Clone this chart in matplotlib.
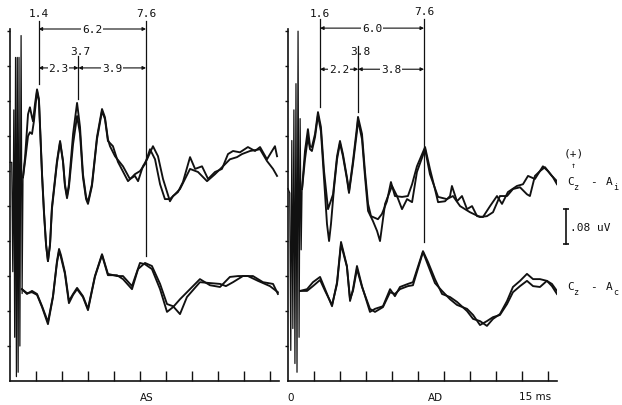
import matplotlib
matplotlib.use("Agg")
import matplotlib.pyplot as plt

# ---------------- data (time in ms, amplitude in uV on the display scale) ----------------
TICKS_MS = [1.5, 3.0, 4.5, 6.0, 7.5, 9.0, 10.5, 12.0, 13.5, 15.0]
YTICKS_UV = [0.08, 0.16, 0.24, 0.32, 0.40, 0.48, 0.56, 0.64, 0.72, 0.80]
SCALE_UV = 0.08
ONSET_MS = 0.25

AS_LATENCIES = [1.4, 3.7, 7.6]
AD_LATENCIES = [1.6, 3.8, 7.6]

# stimulus artefact
AS_ART_T = [0.00, 0.10, 0.16, 0.22, 0.27, 0.32, 0.37, 0.42, 0.47, 0.52, 0.57, 0.64, 0.70, 0.75]
AS_ART_V = [0.50, 0.50, 0.25, 0.62, 0.10, 0.74, 0.01, 0.74, 0.02, 0.74, 0.08, 0.79, 0.20, 0.466]
AD_ART_T = [0.00, 0.10, 0.16, 0.22, 0.28, 0.34, 0.40, 0.46, 0.52, 0.58, 0.64, 0.70, 0.76, 0.81]
AD_ART_V = [0.44, 0.43, 0.07, 0.55, 0.12, 0.62, 0.04, 0.68, 0.02, 0.80, 0.10, 0.60, 0.30, 0.439]

# AS, Cz-Ai, two replications
AS_UP_A_T = [0.75, 0.87, 1.04, 1.15, 1.27, 1.33, 1.44, 1.56, 1.67, 1.73, 1.85, 1.96, 2.08, 2.19, 2.31,
             2.42, 2.71, 2.89, 3.06, 3.17, 3.29, 3.40, 3.64, 3.87, 4.04, 4.21, 4.39, 4.50, 4.73, 5.02,
             5.31, 5.48, 5.65, 5.77, 6.06, 6.52, 6.92, 7.21, 7.39, 7.67, 7.91, 8.25, 8.54, 8.83,
             9.23, 9.41, 9.69, 9.98, 10.39, 10.68, 11.08, 11.43, 11.83, 12.23, 12.58, 12.87, 13.27,
             13.73, 14.14, 14.43, 14.83, 15.12, 15.29, 15.41]
AS_UP_A_V = [0.466, 0.512, 0.610, 0.626, 0.603, 0.594, 0.633, 0.667, 0.645, 0.587, 0.473, 0.389, 0.313,
             0.274, 0.313, 0.398, 0.503, 0.549, 0.503, 0.450, 0.423, 0.450, 0.565, 0.636, 0.581, 0.473,
             0.421, 0.409, 0.450, 0.558, 0.622, 0.603, 0.553, 0.537, 0.514, 0.491, 0.462, 0.469, 0.457,
             0.491, 0.507, 0.537, 0.514, 0.462, 0.411, 0.423, 0.432, 0.455, 0.512, 0.485, 0.491, 0.462,
             0.478, 0.485, 0.519, 0.526, 0.523, 0.535, 0.526, 0.535, 0.507, 0.526, 0.537, 0.514]
AS_UP_B_T = [0.75, 0.87, 1.04, 1.15, 1.27, 1.38, 1.56, 1.67, 1.73, 1.85, 1.96, 2.08, 2.19, 2.31, 2.42,
             2.71, 2.89, 3.06, 3.17, 3.29, 3.40, 3.64, 3.87, 4.04, 4.21, 4.39, 4.50, 4.73, 5.02, 5.31,
             5.48, 5.65, 5.94, 6.23, 6.81, 7.04, 7.21, 7.50, 7.79, 8.08, 8.37, 8.66, 8.94,
             9.23, 9.52, 9.81, 10.10, 10.39, 10.85, 11.37, 11.83, 12.29, 12.69, 13.10, 13.39, 13.85,
             14.43, 14.83, 15.18, 15.41]
AS_UP_B_V = [0.466, 0.503, 0.560, 0.569, 0.565, 0.594, 0.663, 0.640, 0.583, 0.469, 0.384, 0.311, 0.274,
             0.311, 0.393, 0.498, 0.546, 0.501, 0.446, 0.418, 0.443, 0.542, 0.606, 0.565, 0.466, 0.416,
             0.405, 0.446, 0.553, 0.617, 0.599, 0.549, 0.537, 0.501, 0.457, 0.466, 0.473, 0.480, 0.496,
             0.530, 0.507, 0.450, 0.416, 0.416, 0.427, 0.439, 0.462, 0.485, 0.478, 0.457, 0.473, 0.491,
             0.507, 0.512, 0.519, 0.526, 0.530, 0.503, 0.485, 0.469]

# AS, Cz-Ac
AS_LO_A_T = [0.69, 0.98, 1.27, 1.56, 1.85, 2.19, 2.48, 2.71, 2.83, 2.94, 3.17, 3.40, 3.64, 3.87, 4.21,
             4.50, 4.90, 5.31, 5.65, 6.17, 6.52, 7.04, 7.50, 7.79, 8.19, 8.66, 9.06, 9.41, 9.81, 10.21,
             10.96, 11.54, 12.12, 12.69, 13.16, 13.73, 14.31, 15.00, 15.46]
AS_LO_A_V = [0.210, 0.199, 0.206, 0.199, 0.171, 0.135, 0.194, 0.274, 0.302, 0.288, 0.249, 0.183, 0.199,
             0.213, 0.194, 0.165, 0.240, 0.290, 0.245, 0.240, 0.240, 0.217, 0.270, 0.267, 0.256, 0.210,
             0.158, 0.169, 0.187, 0.203, 0.233, 0.219, 0.215, 0.238, 0.240, 0.240, 0.229, 0.217, 0.203]
AS_LO_B_T = [0.69, 0.98, 1.27, 1.56, 1.85, 2.19, 2.48, 2.71, 2.83, 2.94, 3.17, 3.40, 3.64, 3.87, 4.21,
             4.50, 4.90, 5.31, 5.65, 6.17, 6.52, 7.04, 7.39, 7.79, 8.19, 8.66, 9.06, 9.41, 9.81, 10.21,
             10.96, 11.54, 12.12, 12.46, 12.87, 13.44, 14.02, 14.60, 15.18, 15.46]
AS_LO_B_V = [0.210, 0.201, 0.203, 0.197, 0.169, 0.130, 0.192, 0.270, 0.297, 0.283, 0.245, 0.178, 0.197,
             0.210, 0.192, 0.162, 0.238, 0.288, 0.242, 0.242, 0.233, 0.210, 0.256, 0.270, 0.263, 0.222,
             0.176, 0.171, 0.153, 0.192, 0.226, 0.224, 0.222, 0.217, 0.226, 0.240, 0.240, 0.226, 0.222,
             0.199]

# AD, Cz-Ai
AD_UP_A_T = [0.81, 0.98, 1.15, 1.27, 1.38, 1.56, 1.73, 1.90, 2.08, 2.31, 2.60, 2.83, 3.00, 3.17, 3.40,
             3.52, 3.75, 3.98, 4.04, 4.27, 4.44, 4.62, 4.79, 5.19, 5.42, 5.71, 5.94, 6.17, 6.58, 6.92,
             7.16, 7.44, 7.91, 8.19, 8.48, 8.66, 9.06, 9.35, 9.46, 9.75, 10.04, 10.33, 10.62, 10.91,
             11.25, 11.66, 12.06, 12.35, 12.69, 13.21, 13.56, 13.85, 14.25, 14.71, 15.00, 15.29, 15.52]
AD_UP_A_V = [0.439, 0.526, 0.576, 0.537, 0.535, 0.565, 0.615, 0.581, 0.480, 0.393, 0.427, 0.514, 0.549,
             0.519, 0.466, 0.434, 0.503, 0.581, 0.604, 0.565, 0.480, 0.405, 0.377, 0.370, 0.382, 0.411,
             0.455, 0.423, 0.421, 0.423, 0.450, 0.491, 0.535, 0.485, 0.439, 0.409, 0.411, 0.423, 0.446,
             0.411, 0.423, 0.393, 0.400, 0.377, 0.375, 0.400, 0.423, 0.405, 0.432, 0.446, 0.450, 0.469,
             0.462, 0.491, 0.480, 0.466, 0.450]
AD_UP_B_T = [0.81, 0.98, 1.15, 1.27, 1.38, 1.56, 1.73, 1.90, 2.08, 2.25, 2.37, 2.48, 2.65, 2.83, 3.00,
             3.17, 3.40, 3.52, 3.75, 3.98, 4.04, 4.27, 4.44, 4.62, 4.90, 5.14, 5.31, 5.60, 6.00, 6.29,
             6.58, 6.87, 7.16, 7.44, 7.91, 8.19, 8.66, 9.17, 9.52, 9.93, 10.50, 11.08, 11.48, 11.83,
             12.23, 12.64, 12.98, 13.39, 13.79, 13.96, 14.25, 14.54, 14.83, 15.23, 15.52]
AD_UP_B_V = [0.439, 0.507, 0.558, 0.530, 0.526, 0.558, 0.608, 0.571, 0.462, 0.359, 0.320, 0.359, 0.439,
             0.507, 0.544, 0.514, 0.462, 0.430, 0.496, 0.571, 0.597, 0.553, 0.469, 0.389, 0.366, 0.343,
             0.320, 0.405, 0.446, 0.423, 0.393, 0.416, 0.409, 0.478, 0.530, 0.473, 0.421, 0.416, 0.423,
             0.400, 0.386, 0.375, 0.377, 0.386, 0.423, 0.423, 0.439, 0.443, 0.427, 0.423, 0.469, 0.480,
             0.489, 0.469, 0.457]

# AD, Cz-Ac
AD_LO_A_T = [0.69, 1.10, 1.44, 1.85, 2.14, 2.54, 2.83, 3.06, 3.40, 3.58, 3.75, 3.98, 4.27, 4.73, 5.02,
             5.48, 5.89, 6.17, 6.46, 6.92, 7.21, 7.79, 8.08, 8.48, 8.89, 9.35, 9.75, 10.33, 10.68, 11.08,
             11.48, 11.83, 12.23, 12.64, 12.98, 13.39, 13.79, 14.14, 14.54, 14.94, 15.23, 15.52]
AD_LO_A_V = [0.206, 0.210, 0.226, 0.238, 0.210, 0.171, 0.226, 0.318, 0.263, 0.183, 0.210, 0.263, 0.217,
             0.158, 0.165, 0.171, 0.210, 0.194, 0.215, 0.222, 0.226, 0.297, 0.272, 0.233, 0.199, 0.192,
             0.181, 0.160, 0.142, 0.137, 0.126, 0.142, 0.153, 0.183, 0.215, 0.229, 0.245, 0.233, 0.233,
             0.229, 0.222, 0.206]
AD_LO_B_T = AD_LO_A_T
AD_LO_B_V = [0.206, 0.206, 0.217, 0.231, 0.206, 0.174, 0.222, 0.313, 0.261, 0.187, 0.206, 0.256, 0.215,
             0.165, 0.158, 0.169, 0.203, 0.199, 0.210, 0.217, 0.219, 0.295, 0.265, 0.224, 0.206, 0.187,
             0.174, 0.165, 0.151, 0.128, 0.137, 0.146, 0.151, 0.176, 0.203, 0.217, 0.229, 0.217, 0.215,
             0.229, 0.217, 0.199]

# ---------------- figure ----------------
W, H = 622.0, 406.0
MONO = "DejaVu Sans Mono"
SANS = "DejaVu Sans"
INK = "#111111"

fig = plt.figure(figsize=(W / 100, H / 100), dpi=100)


def rect(x0, y0, x1, y1):
    return [x0 / W, 1 - y1 / H, (x1 - x0) / W, (y1 - y0) / H]


def fpx(x, y):
    return x / W, 1 - y / H


axL = fig.add_axes(rect(10, 30, 278.6, 382))
axR = fig.add_axes(rect(288, 30, 556.6, 382))

for ax in (axL, axR):
    ax.set_xlim(0, 15.5)
    ax.set_ylim(0, 0.805)
    ax.spines["top"].set_visible(False)
    ax.spines["right"].set_visible(False)
    for s in ("left", "bottom"):
        ax.spines[s].set_linewidth(1.2)
        ax.spines[s].set_color(INK)
    ax.set_xticks(TICKS_MS)
    ax.set_yticks(YTICKS_UV)
    ax.tick_params(axis="x", direction="in", length=7, width=1.0, color=INK, labelbottom=False)
    ax.tick_params(axis="y", direction="out", length=2.5, width=1.0, color=INK, labelleft=False)
    ax.patch.set_alpha(0)


def draw_traces(ax, art, traces):
    ax.plot(art[0], art[1], color=INK, lw=0.9, clip_on=False)
    for t, v in traces:
        ax.plot(t, v, color=INK, lw=1.35, solid_joinstyle="round")


draw_traces(axL, (AS_ART_T, AS_ART_V),
            [(AS_UP_A_T, AS_UP_A_V), (AS_UP_B_T, AS_UP_B_V),
             (AS_LO_A_T, AS_LO_A_V), (AS_LO_B_T, AS_LO_B_V)])
draw_traces(axR, (AD_ART_T, AD_ART_V),
            [(AD_UP_A_T, AD_UP_A_V), (AD_UP_B_T, AD_UP_B_V),
             (AD_LO_A_T, AD_LO_A_V), (AD_LO_B_T, AD_LO_B_V)])


def vline(ax, t, top, bottom):
    ax.plot([t, t], [top, bottom], color=INK, lw=0.9, clip_on=False)


def span(ax, t1, t2, y, label):
    ax.annotate("", xy=(t1, y), xytext=(t2, y), annotation_clip=False,
                arrowprops=dict(arrowstyle="<|-|>", lw=0.8, color=INK,
                                shrinkA=0, shrinkB=0, mutation_scale=5))
    ax.text((t1 + t2) / 2, y, label, ha="center", va="center", family=MONO,
            fontsize=8, color=INK, zorder=5,
            bbox=dict(fc="white", ec="none", pad=0.6))


def annotate_panel(ax, lats, tops, bottoms, lab_y, mid_lab_y, y_long, y_short):
    xs = [l + ONSET_MS for l in lats]
    for x, top, bot in zip(xs, tops, bottoms):
        vline(ax, x, top, bot)
    ax.text(xs[0], lab_y[0], f"{lats[0]:.1f}", ha="center", va="center", family=MONO, fontsize=8, color=INK)
    ax.text(xs[2], lab_y[1], f"{lats[2]:.1f}", ha="center", va="center", family=MONO, fontsize=8, color=INK)
    ax.text(xs[1] + 0.1, mid_lab_y, f"{lats[1]:.1f}", ha="center", va="center", family=MONO, fontsize=8, color=INK)
    span(ax, xs[0], xs[2], y_long, f"{lats[2] - lats[0]:.1f}")
    span(ax, xs[0], xs[1], y_short, f"{lats[1] - lats[0]:.1f}")
    span(ax, xs[1], xs[2], y_short, f"{lats[2] - lats[1]:.1f}")


annotate_panel(axL, AS_LATENCIES, tops=[0.823, 0.743, 0.823], bottoms=[0.679, 0.645, 0.286],
               lab_y=[0.841, 0.841], mid_lab_y=0.754, y_long=0.805, y_short=0.716)
annotate_panel(axR, AD_LATENCIES, tops=[0.828, 0.766, 0.828], bottoms=[0.626, 0.615, 0.318],
               lab_y=[0.841, 0.846], mid_lab_y=0.754, y_long=0.807, y_short=0.713)

# scale bar
sb_t, sb_lo = 16.04, 0.313
axR.plot([sb_t, sb_t], [sb_lo, sb_lo + SCALE_UV], color=INK, lw=1.2, clip_on=False)
axR.plot([sb_t, sb_t], [sb_lo, sb_lo + SCALE_UV], ls="none", marker="_", ms=5, mew=1.2,
         color=INK, clip_on=False)
axR.text(16.3, sb_lo + SCALE_UV / 2, f"{SCALE_UV:.2f}".lstrip("0") + " uV", ha="left", va="center",
         family=MONO, fontsize=8, color=INK)


# derivation labels
def deriv(x, y, ref):
    fig.text(*fpx(x, y), "C", family=MONO, fontsize=8, color=INK, ha="left", va="center")
    fig.text(*fpx(x + 6, y + 6), "z", family=MONO, fontsize=6, color=INK, ha="left", va="center")
    fig.text(*fpx(x + 23, y), "-", family=MONO, fontsize=8, color=INK, ha="left", va="center")
    fig.text(*fpx(x + 39, y), "A", family=MONO, fontsize=8, color=INK, ha="left", va="center")
    fig.text(*fpx(x + 46, y + 6), ref, family=MONO, fontsize=6, color=INK, ha="left", va="center")


fig.text(*fpx(574, 153), "(+)", family=MONO, fontsize=8, color=INK, ha="center", va="center")
fig.text(*fpx(573, 166), "\u2191", family=MONO, fontsize=6, color=INK, ha="center", va="center")
deriv(567, 182, "i")
deriv(567, 287, "c")

# bottom labels
fig.text(*fpx(147, 398), "AS", family=SANS, fontsize=7.5, color=INK, ha="center", va="center")
fig.text(*fpx(291, 398), "0", family=SANS, fontsize=7.5, color=INK, ha="center", va="center")
fig.text(*fpx(435, 398), "AD", family=SANS, fontsize=7.5, color=INK, ha="center", va="center")
fig.text(*fpx(535, 397), "15 ms", family=SANS, fontsize=7.5, color=INK, ha="center", va="center")

fig.savefig("out.png", dpi=100, facecolor="white")
